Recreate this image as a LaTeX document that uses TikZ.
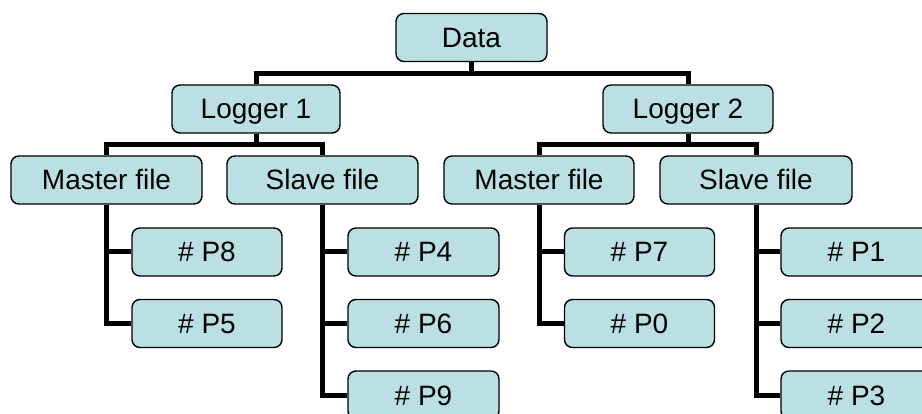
\documentclass[tikz,border=0pt]{standalone}
\usepackage{fontspec}
\setmainfont{Liberation Sans}
\definecolor{boxfill}{RGB}{187,224,227}
\tikzset{
  box/.style={draw=black, line width=1.4pt, fill=boxfill, rounded corners=8pt,
    inner sep=0pt, minimum height=48pt, text height=20pt, text depth=0pt,
    font=\fontsize{28}{32}\selectfont},
  conn/.style={line width=5pt, line join=miter, line cap=butt}
}
\begin{document}
\begin{tikzpicture}[x=1pt,y=-1pt]
\useasboundingbox (0,0) rectangle (922,414);
\clip (0,0) rectangle (922,414);
% nodes
\node[box, minimum width=151pt] (data) at (471.5,37.5) {Data};
\node[box, minimum width=168pt] (l1) at (256,109) {Logger 1};
\node[box, minimum width=170pt] (l2) at (688,109) {Logger 2};
\node[box, minimum width=191pt] (m1) at (106.5,180) {Master file};
\node[box, minimum width=191pt] (s1) at (322.5,180) {Slave file};
\node[box, minimum width=190pt] (m2) at (539,180) {Master file};
\node[box, minimum width=192pt] (s2) at (756,180) {Slave file};
\node[box, minimum width=150pt] (p8) at (207,252) {\# P8};
\node[box, minimum width=150pt] (p5) at (207,323.5) {\# P5};
\node[box, minimum width=151pt] (p4) at (423.5,252) {\# P4};
\node[box, minimum width=151pt] (p6) at (423.5,323.5) {\# P6};
\node[box, minimum width=151pt] (p9) at (423.5,395) {\# P9};
\node[box, minimum width=150pt] (p7) at (639.5,252) {\# P7};
\node[box, minimum width=150pt] (p0) at (639.5,323.5) {\# P0};
\node[box, minimum width=151pt] (p1) at (856.5,252) {\# P1};
\node[box, minimum width=151pt] (p2) at (856.5,323.5) {\# P2};
\node[box, minimum width=151pt] (p3) at (856.5,395) {\# P3};
% connectors
\draw[conn] (data.south) -- ++(0,11) -| (l1.north);
\draw[conn] (data.south) -- ++(0,11) -| (l2.north);
\draw[conn] (l1.south) -- ++(0,11) -| (m1.north);
\draw[conn] (l1.south) -- ++(0,11) -| (s1.north);
\draw[conn] (l2.south) -- ++(0,11) -| (m2.north);
\draw[conn] (l2.south) -- ++(0,11) -| (s2.north);
\draw[conn] (m1.south) |- (p8.west);
\draw[conn] (m1.south) |- (p5.west);
\draw[conn] (s1.south) |- (p4.west);
\draw[conn] (s1.south) |- (p6.west);
\draw[conn] (s1.south) |- (p9.west);
\draw[conn] (m2.south) |- (p7.west);
\draw[conn] (m2.south) |- (p0.west);
\draw[conn] (s2.south) |- (p1.west);
\draw[conn] (s2.south) |- (p2.west);
\draw[conn] (s2.south) |- (p3.west);
\end{tikzpicture}
\end{document}
